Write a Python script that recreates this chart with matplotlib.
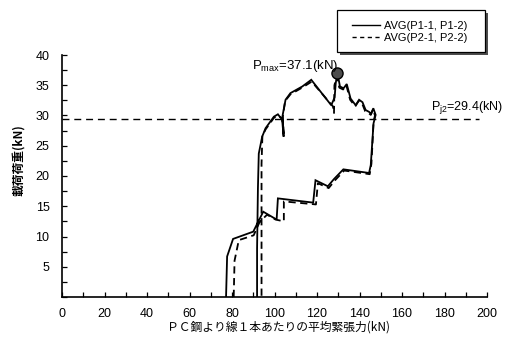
import numpy as np
import matplotlib
matplotlib.use("Agg")
import matplotlib.pyplot as plt
from matplotlib.patches import Rectangle
from matplotlib.lines import Line2D

plt.rcParams['font.family'] = ['Liberation Sans', 'Noto Sans CJK JP', 'DejaVu Sans']
plt.rcParams['mathtext.fontset'] = 'custom'
plt.rcParams['mathtext.rm'] = 'Liberation Sans'
plt.rcParams['mathtext.it'] = 'Liberation Sans'

# average tension per strand (kN) vs applied load (kN)
p1_tension = [77.2, 77.7, 80.5, 90.0, 94.7, 101.0, 101.6, 118.2, 119.3, 125.1, 128.0,
              132.4, 144.5, 145.3, 146.0, 146.6, 147.6, 146.5, 145.5, 144.5, 142.9,
              141.4, 139.8, 138.2, 135.8, 134.0, 132.5, 130.8, 129.6, 128.8, 128.3,
              126.7, 117.3, 113.1, 107.5, 105.2, 103.8, 104.3, 103.6, 101.6, 99.7,
              95.8, 94.2, 92.6, 92.2, 91.8, 91.8]
p1_load = [0.0, 6.7, 9.6, 10.8, 14.1, 12.8, 16.3, 15.6, 19.3, 18.3, 19.5,
           21.1, 20.5, 21.8, 25.5, 28.7, 30.1, 31.2, 30.3, 30.6, 30.9,
           32.2, 32.6, 31.7, 32.8, 35.2, 34.5, 34.8, 37.1, 35.3, 33.0,
           31.7, 35.9, 34.8, 33.7, 32.6, 30.0, 26.5, 29.3, 30.2, 29.8,
           27.9, 26.5, 23.7, 18.0, 8.0, 0.0]

p2_tension = [80.8, 81.2, 83.2, 90.2, 93.0, 96.5, 100.5, 104.4, 104.4, 119.5, 120.4,
              125.5, 128.5, 132.8, 144.8, 145.6, 146.2, 146.6, 147.3, 146.3, 145.3,
              144.3, 142.7, 141.2, 139.6, 138.0, 135.6, 133.8, 132.3, 130.5, 129.3,
              128.2, 128.0, 127.5, 117.5, 113.0, 107.5, 105.0, 103.9, 104.4, 103.5,
              101.3, 99.7, 95.8, 94.3, 93.9, 93.9]
p2_load = [0.0, 6.0, 9.4, 10.2, 12.4, 13.6, 12.8, 12.5, 15.8, 15.3, 18.8,
           18.0, 19.3, 20.9, 20.3, 22.0, 26.0, 29.0, 30.0, 31.0, 30.1,
           30.4, 30.7, 32.0, 32.4, 31.5, 32.6, 35.0, 34.3, 34.6, 36.5,
           35.0, 30.4, 31.5, 35.6, 34.6, 33.5, 32.4, 29.8, 26.6, 29.6,
           30.0, 29.6, 27.7, 26.6, 22.0, 0.0]

p_max = 37.1
p_j2 = 29.4

fig = plt.figure(figsize=(5.11, 3.40), dpi=100)
ax = fig.add_axes([62 / 511, 1 - 297 / 340, 425 / 511, 242 / 340])

ax.plot(p1_tension, p1_load, color='black', lw=1.3, solid_joinstyle='miter')
ax.plot(p2_tension, p2_load, color='black', lw=1.3, dashes=(4, 2.5))

# design load line
ax.plot([0, 196], [p_j2, p_j2], color='black', lw=1.0, dashes=(5, 3.5))

# maximum load point
i_max = int(np.argmax(p1_load))
ax.plot(p1_tension[i_max], p1_load[i_max], 'o', ms=8, mfc='0.3', mec='black', mew=1.0)

ax.text(89.4, 38.1, r"P$_{\rm max}$=%.1f(kN)" % p_max, fontsize=9.5, va='center', ha='left')
ax.text(173.6, 31.3, r"P$_{j2}$=%.1f(kN)" % p_j2, fontsize=9, va='center', ha='left')

ax.set_xlim(0, 200)
ax.set_ylim(0, 40)
ax.spines['top'].set_visible(False)
ax.spines['right'].set_visible(False)
ax.spines['left'].set_linewidth(1.2)
ax.spines['bottom'].set_linewidth(1.2)

ax.set_xticks(np.arange(0, 201, 20))
ax.set_xticks(np.arange(0, 201, 10), minor=True)
ax.set_yticks(np.arange(5, 41, 5))
ax.set_yticks(np.arange(0, 40.1, 2.5), minor=True)
ax.tick_params(which='both', direction='in', length=3.5, width=0.9, labelsize=9)
ax.tick_params(axis='x', pad=8)
ax.tick_params(axis='y', pad=9)

fig.text(278 / 511, 1 - 327 / 340, "ＰＣ鋼より線１本あたりの平均緊張力(kN)",
         fontsize=8.5, ha='center', va='center', family=['Noto Sans CJK JP', 'DejaVu Sans'])
fig.text(19 / 511, 1 - 160 / 340, "載荷荷重(kN)", rotation=90, fontsize=8.5,
         fontweight='bold', ha='center', va='center', family=['Noto Sans CJK JP', 'DejaVu Sans'])

# legend box with drop shadow
fig.patches.append(Rectangle((340 / 511, 1 - 55 / 340), 148 / 511, 42 / 340,
                             transform=fig.transFigure, facecolor='0.3', edgecolor='none', zorder=1))
fig.patches.append(Rectangle((337 / 511, 1 - 52 / 340), 148 / 511, 42 / 340,
                             transform=fig.transFigure, facecolor='white', edgecolor='black',
                             lw=0.9, zorder=2))
handles = [Line2D([], [], color='black', lw=1.0),
           Line2D([], [], color='black', lw=1.0, dashes=(3, 2.5))]
fig.legend(handles, ["AVG(P1-1, P1-2)", "AVG(P2-1, P2-2)"], loc='center',
           bbox_to_anchor=(410 / 511, 1 - 32 / 340), frameon=False, fontsize=8,
           handlelength=2.5, handletextpad=0.4, labelspacing=0.25)

fig.savefig("out.png", dpi=100)
